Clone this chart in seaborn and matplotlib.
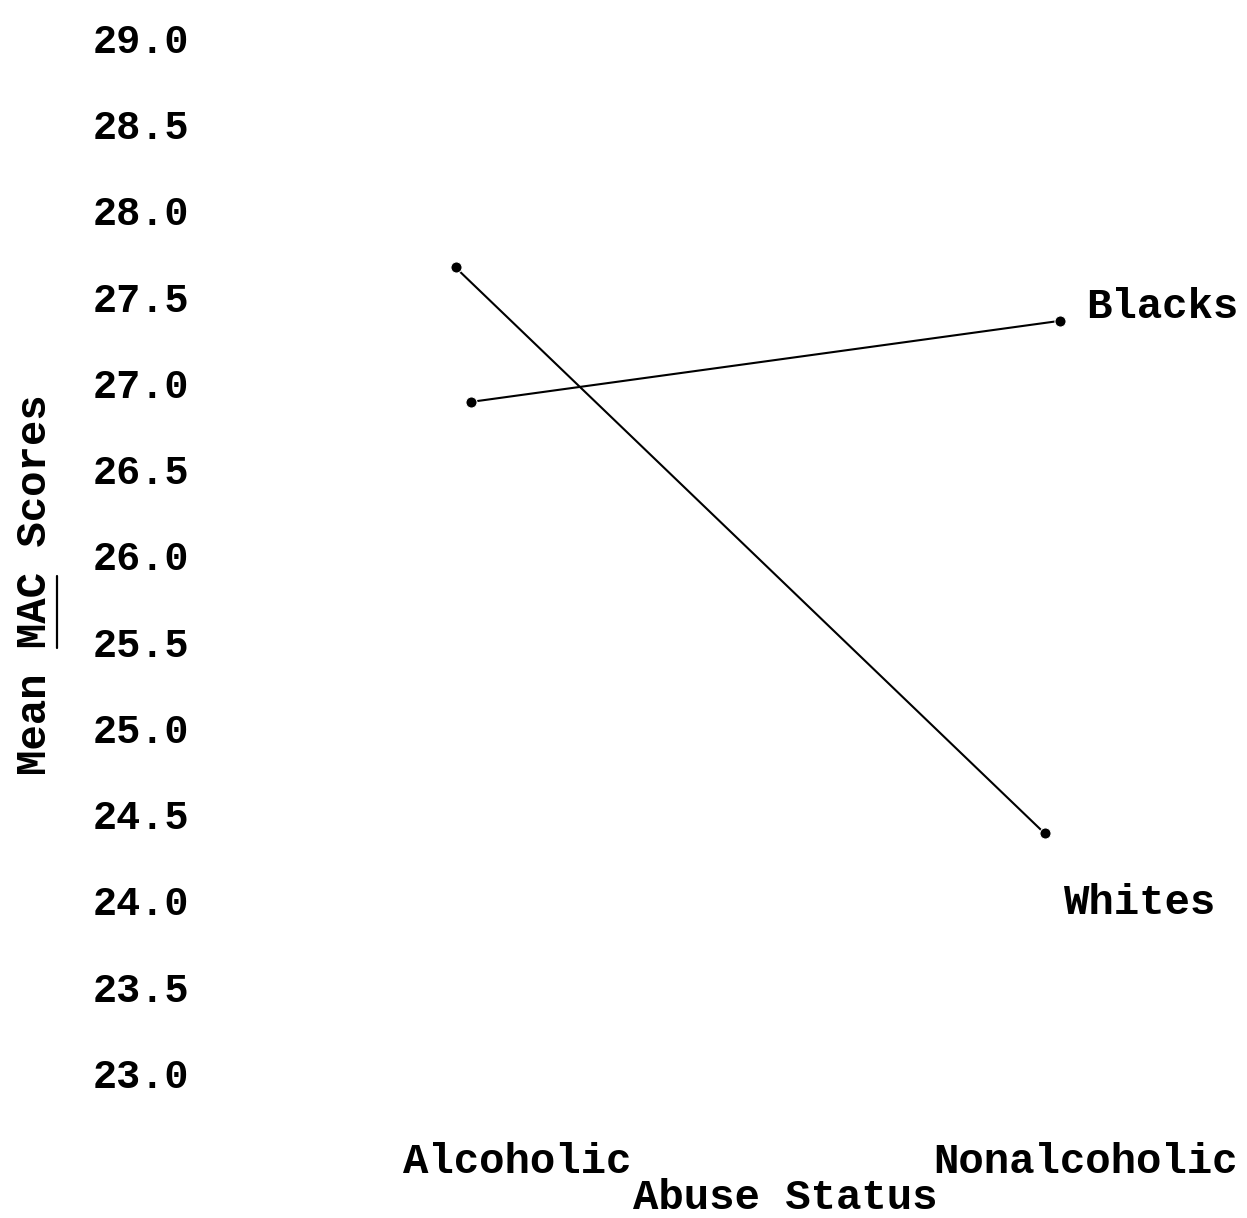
import pandas as pd
import seaborn as sns
import matplotlib.pyplot as plt
import matplotlib.transforms as mtransforms
from matplotlib.lines import Line2D

# values
status = ["Alcoholic", "Nonalcoholic"]
blacks = [26.89, 27.36]
whites = [27.67, 24.39]
y_ticks = [23.0, 23.5, 24.0, 24.5, 25.0, 25.5, 26.0, 26.5, 27.0, 27.5, 28.0, 28.5, 29.0]

df = pd.DataFrame({
    "status": status * 2,
    "group": ["Blacks"] * 2 + ["Whites"] * 2,
    "score": blacks + whites,
})

sns.set_theme(style="white")
plt.rcParams["font.family"] = ["Liberation Mono", "DejaVu Sans Mono"]
plt.rcParams["font.weight"] = "bold"
plt.rcParams["text.color"] = "black"
plt.rcParams["xtick.color"] = "black"
plt.rcParams["ytick.color"] = "black"

FS = 29    # tick numbers
FS2 = 30.5   # other text

fig = plt.figure(figsize=(12.47, 12.18), dpi=100)
W, H = 1247, 1218
# axes spans pixel x 200..1240, y 38..1073
ax = fig.add_axes([200 / W, 1 - 1073 / H, 1040 / W, (1073 - 38) / H])

sns.lineplot(data=df, x="status", y="score", hue="group",
             palette={"Blacks": "black", "Whites": "black"},
             marker="o", markersize=8, linewidth=1.5, legend=False, ax=ax)

# small horizontal shifts between the hand-drawn series
shift = {"Blacks": 7, "Whites": -8}
for line, grp in zip(ax.get_lines(), ["Blacks", "Whites"]):
    line.set_transform(ax.transData + mtransforms.ScaledTranslation(
        shift[grp] / 100, 0, fig.dpi_scale_trans))

ax.set_ylim(23, 29)
ax.set_xlim(-(463.5 - 200) / 589, 1 + (1240 - 1052.5) / 589)
ax.set_yticks(y_ticks)
ax.set_yticklabels([f"{v:.1f}" for v in y_ticks], fontsize=FS, fontweight="bold")
ax.set_xticks([0, 1])
ax.set_xticklabels(status, fontsize=FS2, fontweight="bold")
ax.tick_params(axis="y", length=0, pad=8)
ax.tick_params(axis="x", length=0, pad=50)
for lab, dx in zip(ax.get_xticklabels(), [54, 33]):
    lab.set_transform(lab.get_transform() + mtransforms.ScaledTranslation(
        dx / 100, 0, fig.dpi_scale_trans))
for s in ax.spines.values():
    s.set_visible(False)
ax.set_xlabel("")
ax.set_ylabel("")

# series labels
ax.annotate("Blacks", xy=(1, blacks[1]), xytext=(24, 10), textcoords="offset points",
            ha="left", va="center", fontsize=FS2, fontweight="bold")
ax.annotate("Whites", xy=(1, whites[1]), xytext=(8, -50), textcoords="offset points",
            ha="left", va="center", fontsize=FS2, fontweight="bold")

fig.text(785 / W, 1 - 1198 / H, "Abuse Status", ha="center", va="center",
         fontsize=FS2, fontweight="bold")
ylab_text = "Mean MAC Scores"
ylab = fig.text(35 / W, 1 - 585 / H, ylab_text, rotation=90,
                ha="center", va="center", fontsize=FS2, fontweight="bold")

# underline "MAC" (monospace, so split the extent by character count)
fig.canvas.draw()
bb = ylab.get_window_extent()
n = len(ylab_text)
step = bb.height / n
y0 = bb.y0 + 5 * step
y1 = bb.y0 + 8 * step - 0.15 * step
fig.add_artist(Line2D([57 / W, 57 / W], [y0 / H, y1 / H], color="black", linewidth=1.6))

fig.savefig("out.png", dpi=100)
